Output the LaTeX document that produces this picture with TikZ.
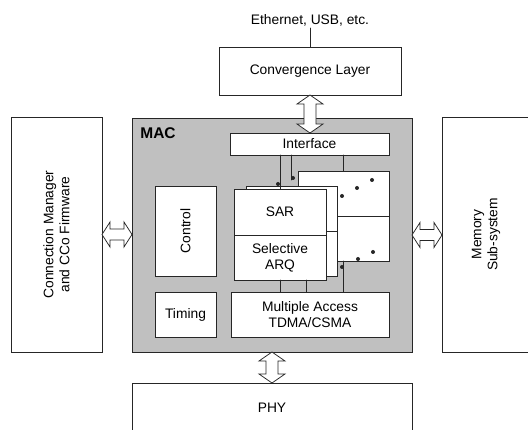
\documentclass[tikz,border=0pt]{standalone}
\usepackage{fontspec}
\setmainfont{Liberation Sans}
\usetikzlibrary{calc}
\definecolor{macgray}{HTML}{C0C0C0}
\definecolor{lineblk}{HTML}{262626}
\newcommand{\lblfont}{\fontsize{13.8}{16}\selectfont}
\tikzset{
  blk/.style     = {draw=lineblk, fill=white, line width=0.75pt, inner sep=0pt,
                    outer sep=0pt, font=\lblfont, align=center},
  macblk/.style  = {blk, fill=macgray},
  wire/.style    = {draw=lineblk, line width=0.7pt},
  bus/.style     = {draw=lineblk, fill=white, line width=0.75pt, line join=miter},
  maclab/.style  = {font=\fontsize{15.5}{18}\selectfont\bfseries, inner sep=0pt},
}
% hollow double arrow, vertical (#1 above #2) and horizontal (#1 left of #2)
\newcommand{\vbus}[2]{%
  \path[bus] let \p1=(#1), \p2=(#2) in
    (\x1,\y1) -- (\x1+13pt,\y1-9pt) -- (\x1+6pt,\y1-9pt) -- (\x1+6pt,\y2+9pt)
    -- (\x1+13pt,\y2+9pt) -- (\x1,\y2) -- (\x1-13pt,\y2+9pt) -- (\x1-6pt,\y2+9pt)
    -- (\x1-6pt,\y1-9pt) -- (\x1-13pt,\y1-9pt) -- cycle;}
\newcommand{\hbus}[2]{%
  \path[bus] let \p1=(#1), \p2=(#2) in
    (\x1,\y1) -- (\x1+8pt,\y1+12.5pt) -- (\x1+8pt,\y1+5.5pt) -- (\x2-8pt,\y1+5.5pt)
    -- (\x2-8pt,\y1+12.5pt) -- (\x2,\y1) -- (\x2-8pt,\y1-12.5pt) -- (\x2-8pt,\y1-5.5pt)
    -- (\x1+8pt,\y1-5.5pt) -- (\x1+8pt,\y1-12.5pt) -- cycle;}

\begin{document}
\begin{tikzpicture}[x=1pt, y=-1pt, line cap=round]
  \path[use as bounding box, clip] (0,0) rectangle (528,430);

  \node[font=\lblfont, inner sep=2pt] (eth) at (310,20) {Ethernet, USB, etc.};
  \node[blk, minimum width=182pt, minimum height=48pt] (cl) at (310,71) {Convergence Layer};
  \draw[wire] (eth.south) -- (cl.north);

  \node[blk, rotate=90, minimum width=235pt, minimum height=91pt] (cm) at (56.5,234.5)
    {Connection Manager\\and CCo Firmware};
  \node[blk, rotate=90, minimum width=235pt, minimum height=88pt] (mem) at (486,234.5)
    {Memory\\Sub-system};
  \node[blk, minimum width=280pt, minimum height=50pt] (phy) at (272,408) {PHY};

  \node[macblk, minimum width=280pt, minimum height=234pt] (mac) at (272,235) {};
  \node[maclab] (maclbl) at (158,133) {MAC};

  \node[blk, minimum width=159pt, minimum height=22pt] (iface) at (309.5,144) {Interface};
  \node[blk, rotate=90, minimum width=90pt, minimum height=61pt] (ctrl) at (185.5,231) {Control};
  \node[blk, minimum width=61pt, minimum height=45pt] (timing) at (185.5,314.5) {Timing};
  \node[blk, minimum width=158pt, minimum height=45pt] (macc) at (310,314.5)
    {Multiple Access\\TDMA/CSMA};

  \node[blk, minimum width=91pt, minimum height=45pt] (backA) at (343.5,193.5) {};
  \node[blk, minimum width=91pt, minimum height=45pt] (backB) at (343.5,238.5) {};
  \coordinate (hidtap) at (291,180);
  \coordinate (midtap) at (306,0);
  \draw[wire] (iface.south -| hidtap) -- (hidtap);
  \draw[wire] (iface.south -| backA.north) -- (backA.north);
  \draw[wire] (backB.south) -- (backB.south |- macc.north);

  \node[blk, minimum width=91pt, minimum height=45pt] (midA) at (291.5,208.5) {};
  \node[blk, minimum width=91pt, minimum height=45pt] (midB) at (291.5,253.5) {};
  \node[blk, minimum width=92pt, minimum height=46pt] (sar) at (280,212) {SAR};
  \node[blk, minimum width=92pt, minimum height=45pt] (arq) at (280,257.5) {Selective\\ARQ};

  \draw[wire] (iface.south -| sar.north) -- (sar.north);
  \draw[wire] (arq.south) -- (arq.south |- macc.north);
  \draw[wire] (arq.south -| midtap) -- (macc.north -| midtap);

  \foreach \p in {(278,184),(293,178),(342,196),(357,188),(372,180),
                  (342,267),(358,259),(373,252)}
    \fill[lineblk] \p circle[radius=2pt];

  \vbus{cl.south}{cl.south |- iface.north}
  \vbus{mac.south}{phy.north}
  \hbus{cm.south}{mac.west}
  \hbus{mac.east}{mem.north}
\end{tikzpicture}
\end{document}
